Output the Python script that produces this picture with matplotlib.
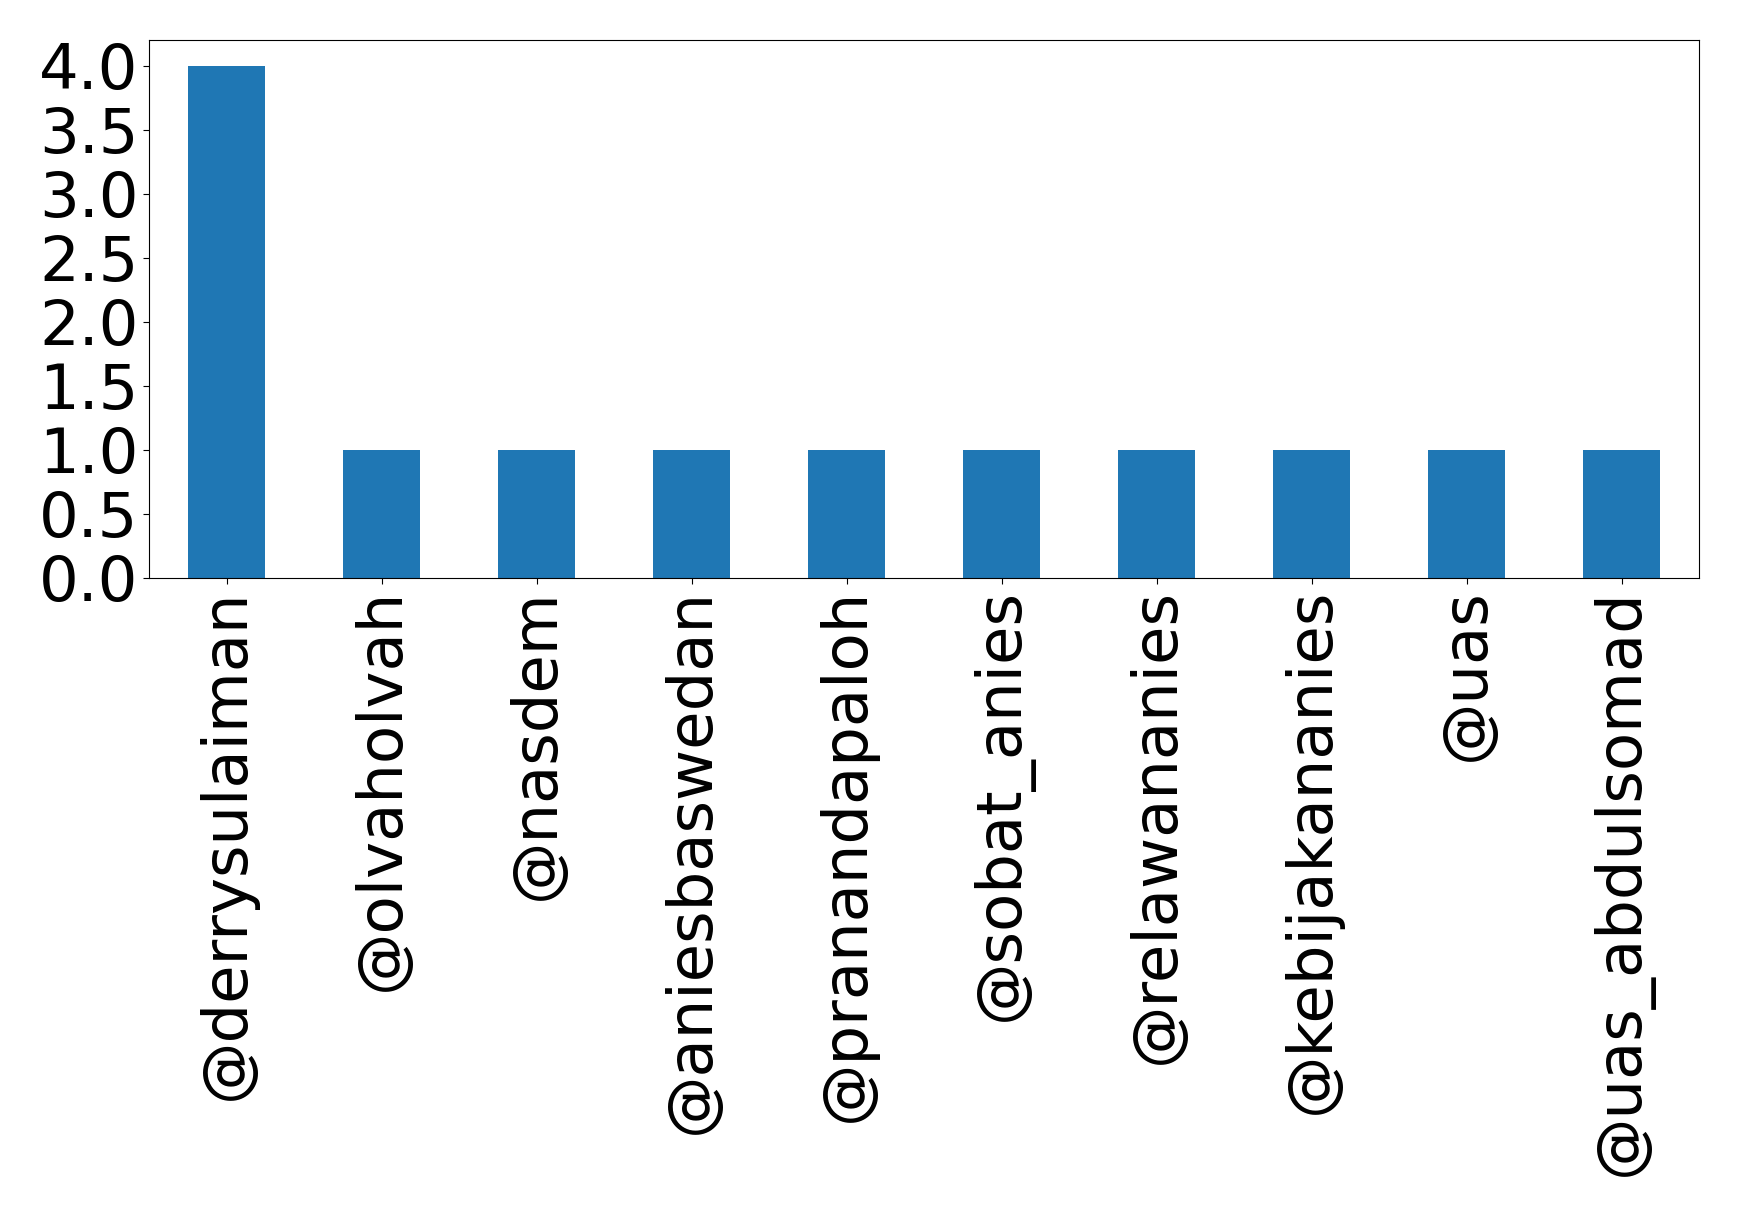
import matplotlib
matplotlib.use("Agg")
import matplotlib.pyplot as plt
import pandas as pd

akun = ['@derrysulaiman', '@olvaholvah', '@nasdem', '@aniesbaswedan', '@pranandapaloh',
        '@sobat_anies', '@relawananies', '@kebijakananies', '@uas', '@uas_abdulsomad']
jumlah = [4, 1, 1, 1, 1, 1, 1, 1, 1, 1]

s = pd.Series(jumlah, index=akun)

fig = plt.figure(figsize=(17.39, 12.16), dpi=100)
ax = fig.add_subplot(111)
s.plot(kind='bar', ax=ax, fontsize=45, color='#1f77b4')
ax.tick_params(length=4)
plt.subplots_adjust(left=0.0857, right=0.977, top=0.967, bottom=0.525)
plt.savefig('out.png', dpi=100)
